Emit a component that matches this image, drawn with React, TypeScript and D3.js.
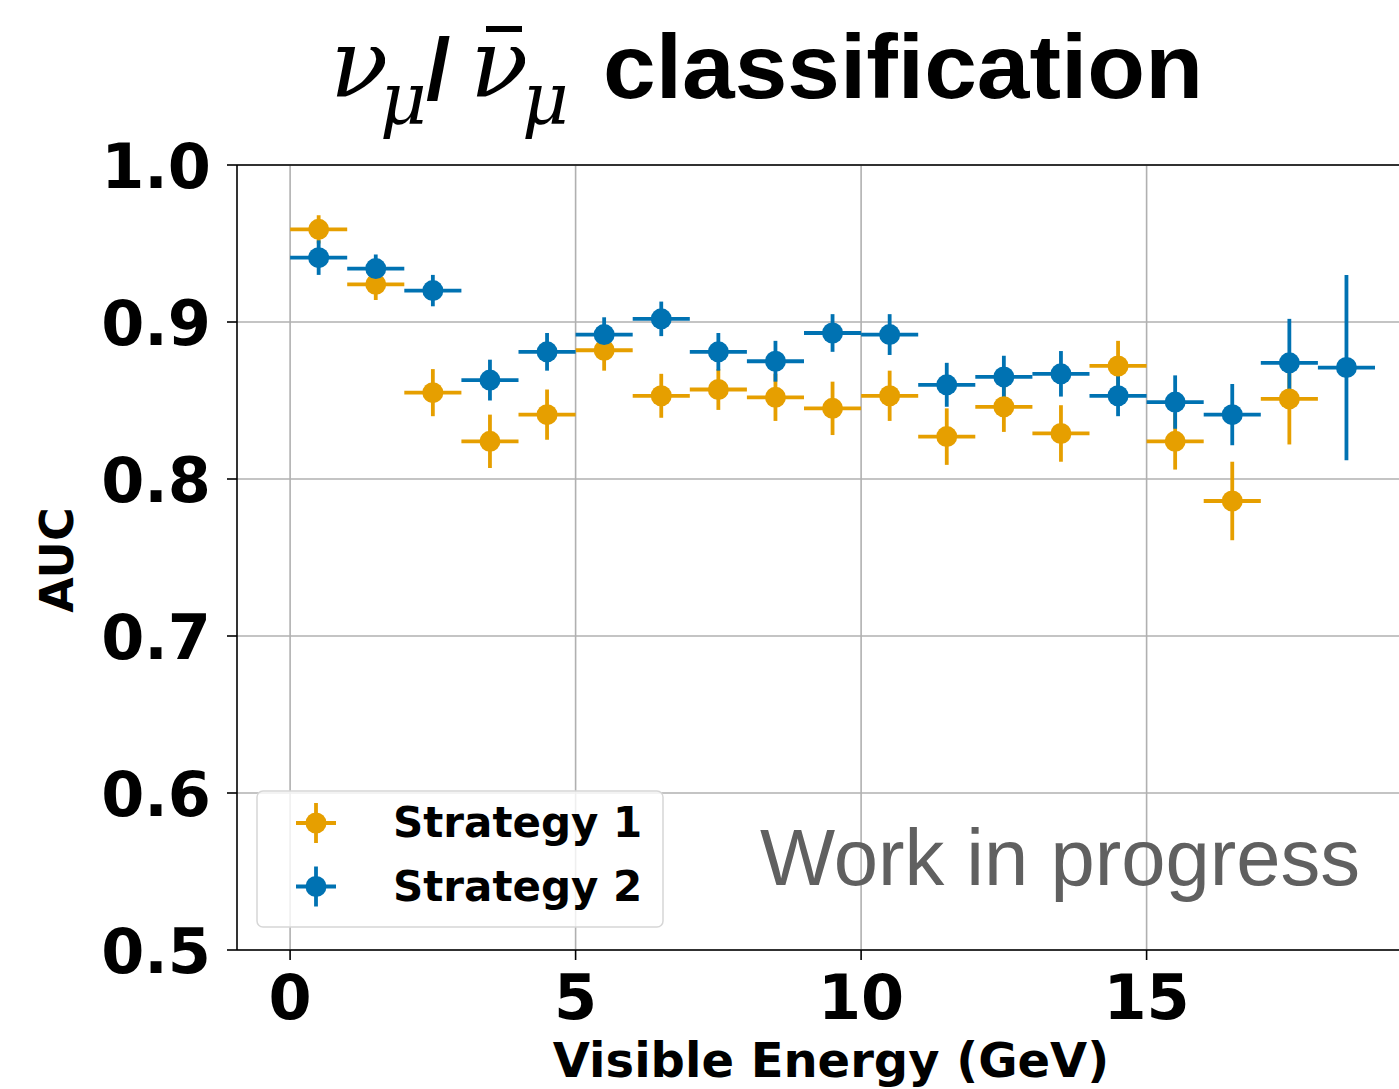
import React, { useEffect } from "react";
import * as d3 from "d3";

// ---- data ----
const binCenters1 = [0.5, 1.5, 2.5, 3.5, 4.5, 5.5, 6.5, 7.5, 8.5, 9.5, 10.5, 11.5, 12.5, 13.5, 14.5, 15.5, 16.5, 17.5];
const strategy1 = [0.959, 0.924, 0.855, 0.824, 0.841, 0.882, 0.853, 0.857, 0.852, 0.845, 0.853, 0.827, 0.846, 0.829, 0.872, 0.824, 0.786, 0.851];
const strategy1Err = [0.009, 0.010, 0.015, 0.017, 0.016, 0.013, 0.014, 0.013, 0.015, 0.017, 0.016, 0.018, 0.016, 0.018, 0.016, 0.018, 0.025, 0.029];

const binCenters2 = [0.5, 1.5, 2.5, 3.5, 4.5, 5.5, 6.5, 7.5, 8.5, 9.5, 10.5, 11.5, 12.5, 13.5, 14.5, 15.5, 16.5, 17.5, 18.5];
const strategy2 = [0.941, 0.934, 0.920, 0.863, 0.881, 0.892, 0.902, 0.881, 0.875, 0.893, 0.892, 0.860, 0.865, 0.867, 0.853, 0.849, 0.841, 0.874, 0.871];
const strategy2Err = [0.011, 0.009, 0.010, 0.013, 0.012, 0.011, 0.011, 0.012, 0.013, 0.012, 0.013, 0.014, 0.0135, 0.0145, 0.013, 0.017, 0.0195, 0.028, 0.059];

const binHalfWidth = 0.5;
const xTicks = [0, 5, 10, 15];
const yTicks = [0.5, 0.6, 0.7, 0.8, 0.9, 1.0];
const seriesNames = ["Strategy 1", "Strategy 2"];
const seriesColors = ["#E69F00", "#0072B2"];

const W = 1399;
const H = 1089;
const left = 237;
const top = 165;
const bottom = 950;

export default function App() {
  useEffect(() => {
    document.body.style.margin = "0";
  }, []);

  const x = d3.scaleLinear().domain([-0.93, 19.93]).range([left, left + 20.86 * 57.1]);
  const y = d3.scaleLinear().domain([0.5, 1.0]).range([bottom, top]);
  const right = x.range()[1];

  const series = [
    { xs: binCenters1, ys: strategy1, es: strategy1Err, color: seriesColors[0] },
    { xs: binCenters2, ys: strategy2, es: strategy2Err, color: seriesColors[1] },
  ];

  const tickFont = "'DejaVu Sans', sans-serif";
  const greekFont = "'DejaVu Serif', serif";
  const lw = 3.8;
  const mr = 10.5;

  return (
    <svg width={W} height={H} style={{ display: "block", background: "#fff" }}>
      <defs>
        <clipPath id="plotclip">
          <rect x={left} y={top} width={right - left} height={bottom - top} />
        </clipPath>
      </defs>
      {/* grid */}
      <g stroke="#b0b0b0" strokeWidth={1.6}>
        {xTicks.map((t) => (
          <line key={"gx" + t} x1={x(t)} x2={x(t)} y1={top} y2={bottom} />
        ))}
        {yTicks.map((t) => (
          <line key={"gy" + t} x1={left} x2={right} y1={y(t)} y2={y(t)} />
        ))}
      </g>

      {/* error bars */}
      <g clipPath="url(#plotclip)">
        {series.map((s, si) => (
          <g key={"e" + si} stroke={s.color} strokeWidth={lw}>
            {s.xs.map((xv, i) => (
              <g key={i}>
                <line x1={x(xv - binHalfWidth)} x2={x(xv + binHalfWidth)} y1={y(s.ys[i])} y2={y(s.ys[i])} />
                <line x1={x(xv)} x2={x(xv)} y1={y(s.ys[i] - s.es[i])} y2={y(s.ys[i] + s.es[i])} />
              </g>
            ))}
          </g>
        ))}
        {series.map((s, si) => (
          <g key={"m" + si} fill={s.color}>
            {s.xs.map((xv, i) => (
              <circle key={i} cx={x(xv)} cy={y(s.ys[i])} r={mr} />
            ))}
          </g>
        ))}
      </g>

      {/* spines */}
      <g stroke="#000" strokeWidth={1.6} fill="none">
        <line x1={left} x2={left} y1={top} y2={bottom} />
        <line x1={left} x2={right} y1={bottom} y2={bottom} />
        <line x1={left} x2={right} y1={top} y2={top} />
      </g>

      {/* ticks */}
      <g stroke="#000" strokeWidth={1.6}>
        {xTicks.map((t) => (
          <line key={"tx" + t} x1={x(t)} x2={x(t)} y1={bottom} y2={bottom + 10} />
        ))}
        {yTicks.map((t) => (
          <line key={"ty" + t} x1={left - 10} x2={left} y1={y(t)} y2={y(t)} />
        ))}
      </g>
      <g fontFamily={tickFont} fontWeight="bold" fontSize={62} fill="#000">
        {xTicks.map((t) => (
          <text key={"lx" + t} x={x(t)} y={1019} textAnchor="middle">
            {d3.format("d")(t)}
          </text>
        ))}
        {yTicks.map((t) => (
          <text key={"ly" + t} x={211} y={y(t) + 23} textAnchor="end">
            {d3.format(".1f")(t)}
          </text>
        ))}
      </g>

      {/* axis labels */}
      <text x={831} y={1077} textAnchor="middle" fontFamily={tickFont} fontWeight="bold" fontSize={48}>
        Visible Energy (GeV)
      </text>
      <text transform="translate(73,560) rotate(-90)" textAnchor="middle" fontFamily={tickFont} fontWeight="bold" fontSize={46}>
        AUC
      </text>

      {/* legend */}
      <rect x={257} y={791} width={406} height={136} rx={6} fill="#fff" fillOpacity={0.8} stroke="#d6d6d6" strokeWidth={1.5} />
      {seriesNames.map((name, i) => {
        const cy = 823 + i * 63.5;
        const cx = 316;
        return (
          <g key={name}>
            <g stroke={seriesColors[i]} strokeWidth={lw}>
              <line x1={cx - 20} x2={cx + 20} y1={cy} y2={cy} />
              <line x1={cx} x2={cx} y1={cy - 20} y2={cy + 20} />
            </g>
            <circle cx={cx} cy={cy} r={mr} fill={seriesColors[i]} />
            <text x={393} y={cy + 14} fontFamily={tickFont} fontWeight="bold" fontSize={42}>
              {name}
            </text>
          </g>
        );
      })}

      {/* watermark */}
      <text x={760} y={885} fontFamily="'Liberation Sans', Arial, sans-serif" fontSize={80} fill="#606060" textLength={600} lengthAdjust="spacingAndGlyphs">
        Work in progress
      </text>

      {/* title */}
      <g fill="#000">
        <text fontFamily={greekFont} fontStyle="italic">
          <tspan x={330} y={97} fontSize={96}>ν</tspan>
          <tspan x={380} y={124} fontSize={72}>μ</tspan>
          <tspan x={426} y={99} fontSize={88} fontStyle="normal" fontWeight="bold" fontFamily="'Liberation Sans', sans-serif">/</tspan>
          <tspan x={470} y={97} fontSize={96}>ν</tspan>
          <tspan x={522} y={124} fontSize={72}>μ</tspan>
        </text>
        <line x1={486} x2={522} y1={29} y2={29} stroke="#000" strokeWidth={6} />
        <text x={603} y={98} fontFamily="'Liberation Sans', Arial, sans-serif" fontWeight="bold" fontSize={90} textLength={600} lengthAdjust="spacingAndGlyphs">
          classification
        </text>
      </g>
    </svg>
  );
}
